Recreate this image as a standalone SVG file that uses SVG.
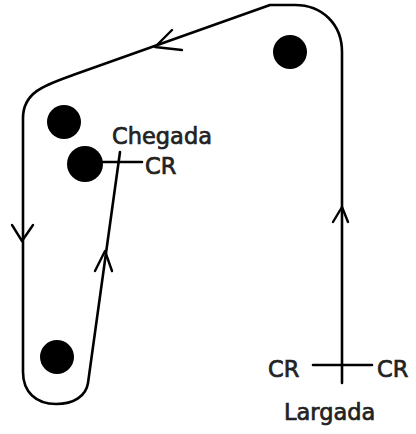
<svg xmlns="http://www.w3.org/2000/svg" width="416" height="434" viewBox="0 0 416 434">
<style>
.trk{fill:none;stroke:#000;stroke-width:2.6;stroke-linecap:round;stroke-linejoin:round}
.arr{fill:none;stroke:#000;stroke-width:2.4;stroke-linecap:round;stroke-linejoin:round}
.dot{fill:#000}
.lbl{font-family:"DejaVu Sans",sans-serif;font-size:22.5px;fill:#222;stroke:#222;stroke-width:0.7}
</style>
<rect width="416" height="434" fill="#fff"/>
<g id="connectors">
<path class="trk" d="M342,383 V52 C342,24 322,5 295,5 L270,5 L73,75 C45,85 23,92 23,118 V372 C23,392 36,404 56,404 C74,404 86,396 88,383 L120,152"/>
<path class="arr" d="M172,30 L155,47 L182,50"/>
<path class="arr" d="M12,225 L22,241 L33,225"/>
<path class="arr" d="M95,271 L105,251 L112,271"/>
<path class="arr" d="M333,222 L342,207 L348,222"/>
<path class="trk" d="M103,162 H142"/>
<path class="trk" d="M313,365 H372"/>
</g>
<g id="pillar1"><circle class="dot" cx="290" cy="52" r="17"/></g>
<g id="pillar2"><circle class="dot" cx="64" cy="122" r="17"/></g>
<g id="pillar3"><circle class="dot" cx="85" cy="164" r="18"/></g>
<g id="pillar4"><circle class="dot" cx="57" cy="357" r="17"/></g>
<g id="chegada">
<text class="lbl" x="112" y="144">Chegada</text>
<text class="lbl" x="145" y="174">CR</text>
</g>
<g id="largada">
<text class="lbl" x="268" y="377">CR</text>
<text class="lbl" x="377" y="377">CR</text>
<text class="lbl" x="284" y="420">Largada</text>
</g>
</svg>
